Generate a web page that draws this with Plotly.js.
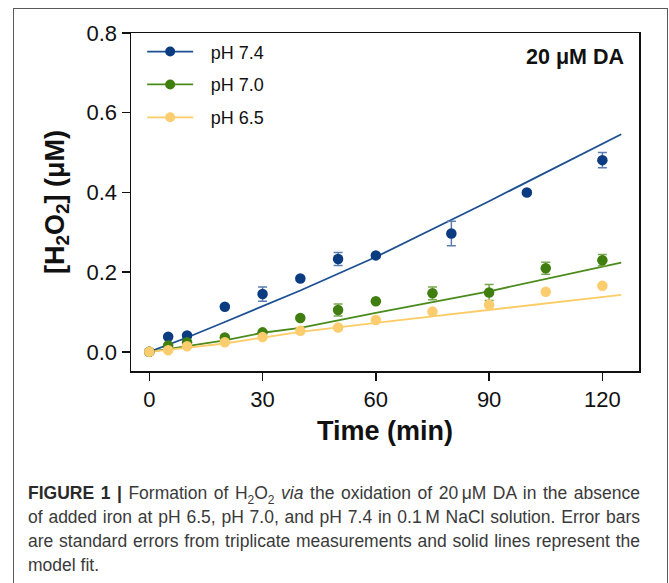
<!DOCTYPE html>
<html>
<head>
<meta charset="utf-8">
<script src="https://cdn.plot.ly/plotly-3.0.1.min.js"></script>
<style>
  html, body { margin:0; padding:0; width:669px; height:583px; overflow:hidden; background:#fff; }
  #plot { position:absolute; left:0; top:0; width:669px; height:583px; }
  #frame { position:absolute; left:13px; top:8px; width:653px; height:700px; border:1.5px solid #5a5a5a; pointer-events:none; }
  .cap { position:absolute; left:28px; width:612px; font-family:"Liberation Sans", Arial, sans-serif; font-size:17.5px; line-height:24px; color:#3a3a3a; white-space:nowrap; text-align:justify; text-align-last:justify; }
  .cap.last { text-align-last:left; }
  .cap b { color:#2a2a2a; }
</style>
</head>
<body>
<div id="plot"></div>
<div id="frame"></div>
<div class="cap" style="top:481px"><b>FIGURE 1 |</b> Formation of H<sub style="font-size:12px;line-height:0">2</sub>O<sub style="font-size:12px;line-height:0">2</sub> <i>via</i> the oxidation of 20&#8201;μM DA in the absence</div>
<div class="cap" style="top:505px">of added iron at pH 6.5, pH 7.0, and pH 7.4 in 0.1&#8201;M NaCl solution. Error bars</div>
<div class="cap" style="top:529px">are standard errors from triplicate measurements and solid lines represent the</div>
<div class="cap last" style="top:553px">model fit.</div>
<script>
// Measured data
const seriesNames = ['pH 7.4', 'pH 7.0', 'pH 6.5'];
const time74 = [0, 5, 10, 20, 30, 40, 50, 60, 80, 100, 120];
const h2o2_74 = [0.0, 0.038, 0.041, 0.113, 0.145, 0.184, 0.233, 0.242, 0.297, 0.400, 0.481];
const err74 = [0.003, 0.004, 0.004, 0.004, 0.018, 0.004, 0.016, 0.004, 0.031, 0.004, 0.019];

const time70 = [0, 5, 10, 20, 30, 40, 50, 60, 75, 90, 105, 120];
const h2o2_70 = [0.0, 0.016, 0.024, 0.036, 0.049, 0.085, 0.105, 0.127, 0.147, 0.149, 0.210, 0.230];
const err70 = [0.003, 0.004, 0.004, 0.004, 0.004, 0.004, 0.015, 0.004, 0.016, 0.020, 0.015, 0.014];

const time65 = [0, 5, 10, 20, 30, 40, 50, 60, 75, 90, 105, 120];
const h2o2_65 = [0.0, 0.004, 0.014, 0.024, 0.037, 0.053, 0.061, 0.080, 0.101, 0.118, 0.151, 0.166];
const err65 = [0.003, 0.003, 0.003, 0.003, 0.003, 0.003, 0.003, 0.003, 0.003, 0.004, 0.004, 0.004];

// Model fit curves
const fitTime74 = [0, 10, 20, 30, 40, 60, 90, 125];
const fit74 = [0.0, 0.036, 0.075, 0.114, 0.154, 0.238, 0.378, 0.546];
const fitTime70 = [0, 20, 30, 40, 60, 90, 125];
const fit70 = [0.0, 0.029, 0.048, 0.060, 0.098, 0.152, 0.224];
const fitTime65 = [0, 20, 30, 40, 60, 90, 125];
const fit65 = [0.0, 0.021, 0.036, 0.050, 0.073, 0.105, 0.143];

const xTicks = [0, 30, 60, 90, 120];
const yTicks = [0.0, 0.2, 0.4, 0.6, 0.8];
const yTickText = ['0.0', '0.2', '0.4', '0.6', '0.8'];

const markerCol = ['#0b3b80', '#3f7e0f', '#fccd6e'];
const lineCol = ['#1d4f93', '#4a8b1b', '#fdcc66'];
const errCol = ['#5b7db3', '#78a850', '#f7d58f'];

const series = [
  {t: time74, y: h2o2_74, e: err74, ft: fitTime74, fy: fit74},
  {t: time70, y: h2o2_70, e: err70, ft: fitTime70, fy: fit70},
  {t: time65, y: h2o2_65, e: err65, ft: fitTime65, fy: fit65}
];

const traces = [];
// legend entries (line + marker)
series.forEach((s, i) => {
  traces.push({x: [null], y: [null], mode: 'lines+markers', name: '\u2002\u2009' + seriesNames[i], legendgroup: 'g' + i,
    line: {color: lineCol[i], width: 1.8}, marker: {color: markerCol[i], size: 10}, showlegend: true, hoverinfo: 'skip'});
});
// fit lines
series.forEach((s, i) => {
  traces.push({x: s.ft, y: s.fy, mode: 'lines', line: {color: lineCol[i], width: 1.8}, showlegend: false, legendgroup: 'g' + i});
});
// data points
series.forEach((s, i) => {
  traces.push({x: s.t, y: s.y, mode: 'markers', marker: {color: markerCol[i], size: 10.5}, showlegend: false, legendgroup: 'g' + i,
    error_y: {type: 'data', array: s.e, visible: true, color: errCol[i], thickness: 1.5, width: 4.5}});
});

const axisFont = {family: 'Liberation Sans, Arial, sans-serif', size: 22, color: '#111'};
const layout = {
  width: 669, height: 583,
  margin: {l: 131, r: 30, t: 33, b: 212, pad: 0},
  paper_bgcolor: 'rgba(0,0,0,0)', plot_bgcolor: '#fff',
  showlegend: true,
  legend: {x: 0.022, y: 0.999, xanchor: 'left', yanchor: 'top', bgcolor: 'rgba(0,0,0,0)',
    font: {family: 'Liberation Sans, Arial, sans-serif', size: 18, color: '#111'},
    traceorder: 'grouped', tracegroupgap: 6.5, itemwidth: 46},
  xaxis: {range: [-4.85, 129.7], tickvals: xTicks, ticktext: xTicks.map(String), ticks: 'outside', ticklen: 8, tickwidth: 1.5, tickcolor: '#111',
    showline: true, linecolor: '#111', linewidth: 1.5, mirror: true, showgrid: false, zeroline: false, tickfont: axisFont,
    title: {text: '<b>Time (min)</b>', font: {family: 'Liberation Sans, Arial, sans-serif', size: 27, color: '#111'}, standoff: 10}},
  yaxis: {range: [-0.048, 0.8], tickvals: yTicks, ticktext: yTickText, ticks: 'outside', ticklen: 8, tickwidth: 1.5, tickcolor: '#111',
    showline: true, linecolor: '#111', linewidth: 1.5, mirror: true, showgrid: false, zeroline: false, tickfont: axisFont,
    title: {text: '<b>[H<sub>2</sub>O<sub>2</sub>] (μM)</b>', font: {family: 'Liberation Sans, Arial, sans-serif', size: 27, color: '#111'}, standoff: 14}},
  annotations: [{xref: 'paper', yref: 'paper', x: 0.975, y: 0.929, xanchor: 'right', yanchor: 'middle', showarrow: false,
    text: '<b>20 μM DA</b>', font: {family: 'Liberation Sans, Arial, sans-serif', size: 21.5, color: '#111'}}]
};

Plotly.newPlot('plot', traces, layout, {displayModeBar: false, staticPlot: true});
</script>
</body>
</html>
